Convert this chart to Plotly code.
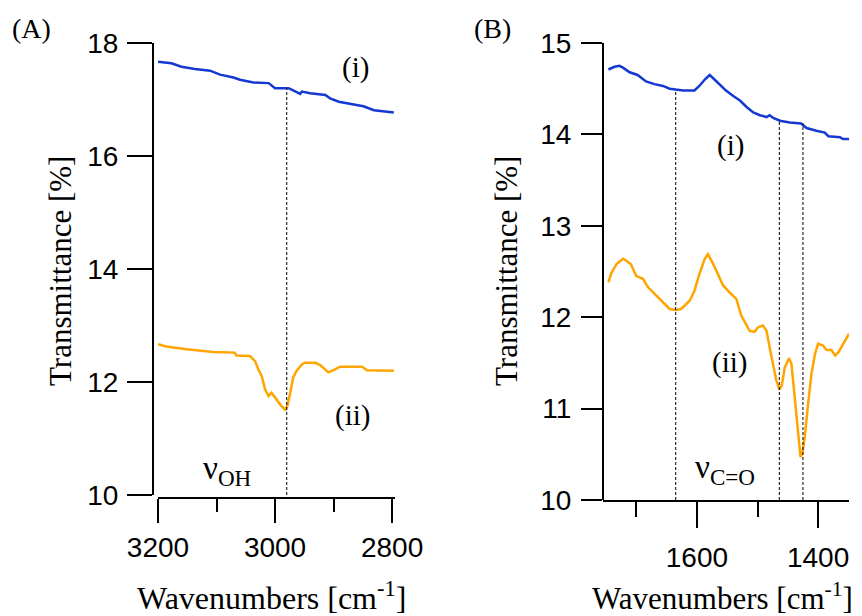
import plotly.graph_objects as go

# Panel A, curve (i)
wn_a1 = [3200, 3177, 3160, 3137, 3111, 3094, 3071, 3060, 3037, 3011, 3000, 2977,
         2969, 2957, 2954, 2940, 2914, 2906, 2891, 2871, 2849, 2831, 2797]
t_a1 = [17.67, 17.64, 17.58, 17.54, 17.51, 17.44, 17.39, 17.35, 17.30, 17.29, 17.20, 17.20,
        17.16, 17.10, 17.14, 17.11, 17.08, 17.02, 16.96, 16.92, 16.88, 16.81, 16.77]

# Panel A, curve (ii)
wn_a2 = [3200, 3186, 3151, 3117, 3106, 3069, 3066, 3043, 3034, 3029, 3023, 3017, 3011,
         3006, 3000, 2991, 2983, 2979, 2974, 2969, 2963, 2954, 2949, 2931, 2923, 2909,
         2900, 2889, 2851, 2843, 2797]
t_a2 = [12.67, 12.63, 12.58, 12.55, 12.53, 12.52, 12.47, 12.46, 12.37, 12.23, 12.11, 11.87, 11.75,
        11.81, 11.72, 11.60, 11.51, 11.57, 11.81, 12.08, 12.20, 12.31, 12.34, 12.34, 12.30, 12.17,
        12.21, 12.27, 12.27, 12.21, 12.20]

# Panel B, curve (i)
wn_b1 = [1746, 1736, 1728, 1722, 1711, 1698, 1684, 1670, 1656, 1645, 1635, 1623, 1604,
         1596, 1587, 1579, 1574, 1563, 1552, 1540, 1529, 1518, 1507, 1496, 1485, 1480,
         1474, 1463, 1447, 1428, 1419, 1403, 1389, 1383, 1364, 1359, 1349]
t_b1 = [14.71, 14.74, 14.75, 14.73, 14.68, 14.65, 14.58, 14.55, 14.53, 14.50, 14.49, 14.48, 14.48,
        14.53, 14.60, 14.65, 14.62, 14.55, 14.48, 14.42, 14.37, 14.30, 14.24, 14.21, 14.19, 14.21,
        14.18, 14.15, 14.13, 14.12, 14.07, 14.04, 14.02, 13.98, 13.97, 13.95, 13.95]

# Panel B, curve (ii)
wn_b2 = [1746, 1742, 1733, 1722, 1717, 1709, 1700, 1689, 1681, 1667, 1656, 1645, 1635,
         1626, 1612, 1604, 1596, 1587, 1582, 1576, 1568, 1557, 1546, 1535, 1527, 1513,
         1505, 1499, 1491, 1485, 1480, 1474, 1469, 1464, 1460, 1455, 1448, 1444, 1438,
         1433, 1429, 1426, 1422, 1417, 1411, 1405, 1400, 1392, 1386, 1378, 1372, 1366,
         1358, 1349]
t_b2 = [12.38, 12.47, 12.58, 12.64, 12.62, 12.58, 12.45, 12.42, 12.33, 12.24, 12.17, 12.09, 12.08,
        12.09, 12.18, 12.29, 12.47, 12.64, 12.69, 12.62, 12.51, 12.35, 12.27, 12.20, 12.02, 11.85,
        11.84, 11.89, 11.91, 11.85, 11.67, 11.49, 11.31, 11.21, 11.25, 11.45, 11.55, 11.49, 11.09,
        10.80, 10.47, 10.51, 10.69, 11.02, 11.38, 11.60, 11.71, 11.69, 11.64, 11.64, 11.58, 11.62,
        11.71, 11.82]

# marker lines (wavenumber, top value)
mark_a = [(2980, 17.20)]
mark_b = [(1635, 14.49), (1464, 14.16), (1425, 14.12)]

BLUE = '#1438D2'
ORANGE = '#FFA500'
SERIF = 'Liberation Serif, Times New Roman, serif'
SANS = 'Liberation Sans Narrow, Arial Narrow, Liberation Sans, Arial, sans-serif'

# page body has an 8px margin, so the figure is shrunk and offset by it
OFF = 8
W, H = 862 - OFF, 616 - OFF


def px(x):
    return (x - OFF) / W


def py(y):
    return 1 - (y - OFF) / H


fig = go.Figure()
fig.add_trace(go.Scatter(x=wn_a1, y=t_a1, mode='lines', line=dict(color=BLUE, width=2.5),
                         xaxis='x', yaxis='y'))
fig.add_trace(go.Scatter(x=wn_a2, y=t_a2, mode='lines', line=dict(color=ORANGE, width=2.5),
                         xaxis='x', yaxis='y'))
fig.add_trace(go.Scatter(x=wn_b1, y=t_b1, mode='lines', line=dict(color=BLUE, width=2.5),
                         xaxis='x2', yaxis='y2'))
fig.add_trace(go.Scatter(x=wn_b2, y=t_b2, mode='lines', line=dict(color=ORANGE, width=2.5),
                         xaxis='x2', yaxis='y2'))

for wn, top in mark_a:
    fig.add_shape(type='line', xref='x', yref='y', x0=wn, x1=wn, y0=10, y1=top,
                  line=dict(color='black', width=1, dash='3px,2px'))
for wn, top in mark_b:
    fig.add_shape(type='line', xref='x2', yref='y2', x0=wn, x1=wn, y0=10, y1=top,
                  line=dict(color='black', width=1, dash='3px,2px'))

tick_font = dict(family=SANS, size=28, color='black')
common = dict(showline=True, linecolor='black', linewidth=2, ticks='outside',
              tickcolor='black', tickwidth=2, showgrid=False, zeroline=False,
              tickfont=tick_font, automargin=False)

fig.update_layout(
    template='none',
    width=W, height=H, margin=dict(l=0, r=0, t=0, b=0, pad=0),
    plot_bgcolor='white', paper_bgcolor='white', showlegend=False,
    xaxis=dict(domain=[px(158), px(395)], range=[3200, 2795], anchor='free', position=py(498),
               tick0=2800, dtick=200, ticklen=24, ticklabelstandoff=0,
               minor=dict(dtick=100, ticklen=13, tickwidth=2, tickcolor='black', ticks='outside'),
               **common),
    yaxis=dict(domain=[py(495), py(43)], range=[10, 18], anchor='free', position=px(153),
               dtick=2, ticklen=25, ticklabelstandoff=3, **common),
    xaxis2=dict(domain=[px(603), px(849)], range=[1755, 1349], anchor='free', position=py(501),
                tick0=1400, dtick=200, ticklen=26, ticklabelstandoff=5,
                minor=dict(dtick=100, ticklen=15, tickwidth=2, tickcolor='black', ticks='outside'),
                **common),
    yaxis2=dict(domain=[py(500), py(43)], range=[10, 15], anchor='free', position=px(603),
                dtick=1, ticklen=21, ticklabelstandoff=4, **common),
)

ann = []
# panel letters
ann.append(dict(text='(A)', x=px(31), y=py(29), xref='paper', yref='paper', font_size=28))
ann.append(dict(text='(B)', x=px(493), y=py(29), xref='paper', yref='paper', font_size=28))
# axis titles
for xc, yc in [(60, 271), (506, 271)]:
    ann.append(dict(text='Transmittance [%]', x=px(xc), y=py(yc), xref='paper', yref='paper',
                    textangle=-90, font_size=31))
for xc, fs in [(271, 32), (722, 31)]:
    ann.append(dict(text='Wavenumbers [cm<sup>-1</sup>]', x=px(xc), y=py(596), xref='paper',
                    yref='paper', font_size=fs))
# curve labels
ann.append(dict(text='(i)', x=2863, y=17.56, xref='x', yref='y', font_size=29))
ann.append(dict(text='(ii)', x=2867, y=11.40, xref='x', yref='y', font_size=29))
ann.append(dict(text='ν<sub>OH</sub>', x=3082, y=10.44, xref='x', yref='y', font_size=33))
ann.append(dict(text='(i)', x=1544, y=13.88, xref='x2', yref='y2', font_size=29))
ann.append(dict(text='(ii)', x=1547, y=11.50, xref='x2', yref='y2', font_size=29))
ann.append(dict(text='ν<sub>C=O</sub>', x=1554, y=10.33, xref='x2', yref='y2', font_size=33))

for a in ann:
    a.setdefault('showarrow', False)
    a['xanchor'] = 'center'
    a['yanchor'] = 'middle'
    a['font'] = dict(family=SERIF, size=a.pop('font_size'), color='black')
    fig.add_annotation(**a)

fig.write_html("out.html")
